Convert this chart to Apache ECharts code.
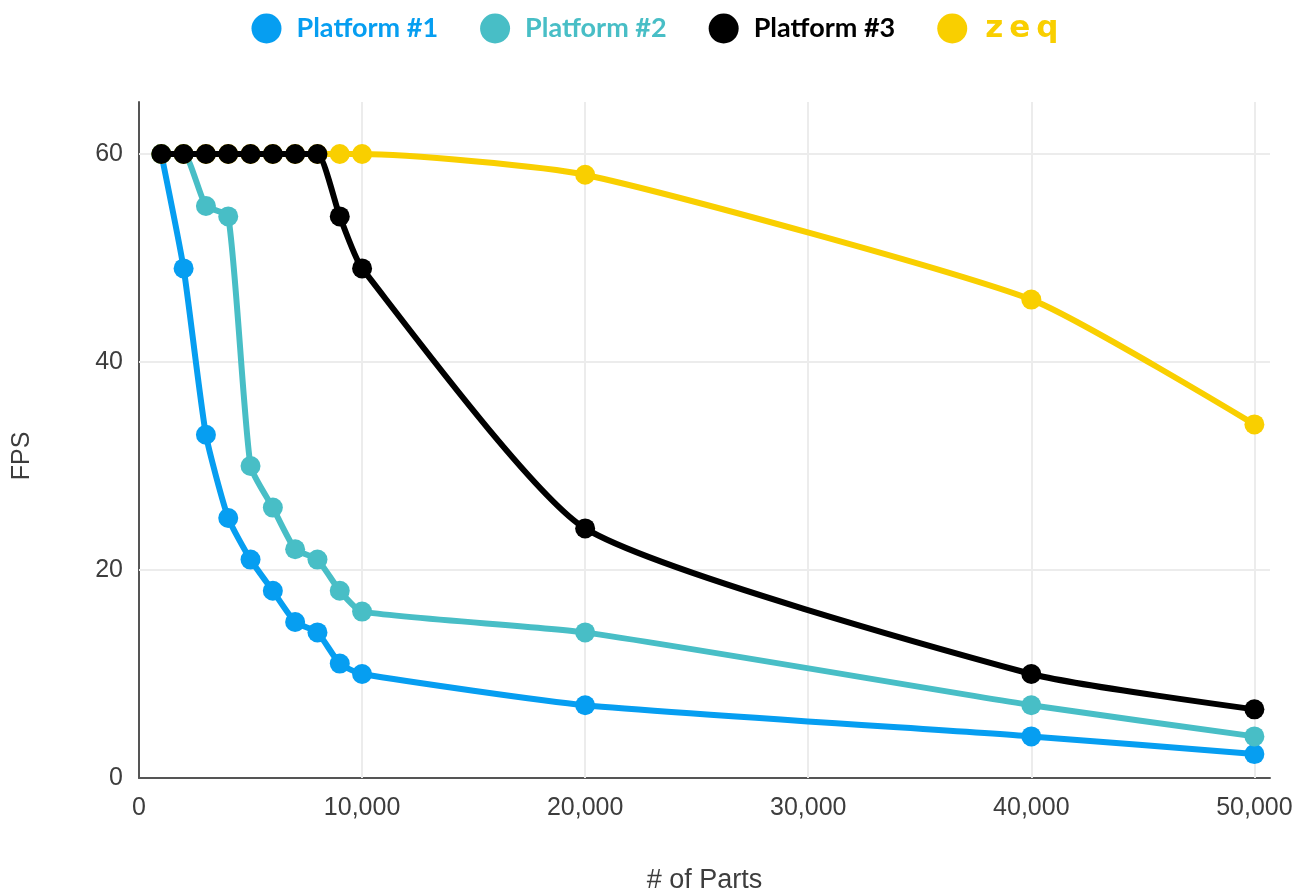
<!DOCTYPE html>
<html>
<head>
<meta charset="utf-8">
<title>FPS vs # of Parts</title>
<script src="https://cdn.jsdelivr.net/npm/echarts@6/dist/echarts.min.js"></script>
<style>
  html, body { margin: 0; padding: 0; background: #ffffff; }
  #chart { width: 1310px; height: 895px; }
</style>
</head>
<body>
<div id="chart"></div>
<script>
// Number of parts rendered in each run
const parts = [1000, 2000, 3000, 4000, 5000, 6000, 7000, 8000, 9000, 10000, 20000, 40000, 50000];

// Measured frames per second for each platform
const platform1 = [60, 49, 33, 25, 21, 18, 15, 14, 11, 10, 7, 4, 2.3];
const platform2 = [60, 60, 55, 54, 30, 26, 22, 21, 18, 16, 14, 7, 4];
const platform3 = [60, 60, 60, 60, 60, 60, 60, 60, 54, 49, 24, 10, 6.6];
const zeq       = [60, 60, 60, 60, 60, 60, 60, 60, 60, 60, 58, 46, 34];

const seriesNames = ['Platform #1', 'Platform #2', 'Platform #3', 'zeq'];
const seriesColors = ['#069ef1', '#48bec6', '#000000', '#f9cf00'];

// Axis ticks and gridline positions
const xTicks = [0, 10000, 20000, 30000, 40000, 50000];
const yTicks = [0, 20, 40, 60];

const pairs = (ys) => parts.map((x, i) => [x, ys[i]]);

const gridLines = [
  ...xTicks.filter(v => v > 0).map(v => ({ xAxis: v })),
  ...yTicks.filter(v => v > 0).map(v => ({ yAxis: v }))
];

const labelFont = { fontFamily: 'Liberation Sans, Arial, sans-serif', fontSize: 25, color: '#3d3d3d' };

function makeSeries(name, ys, color, z, extra) {
  return Object.assign({
    name: name,
    type: 'line',
    data: pairs(ys),
    smooth: 0.18,
    symbol: 'circle',
    symbolSize: 20,
    showSymbol: true,
    z: z,
    itemStyle: { color: color },
    lineStyle: { color: color, width: 6 },
    emphasis: { disabled: true }
  }, extra || {});
}

const chart = echarts.init(document.getElementById('chart'), null, { renderer: 'canvas' });

chart.setOption({
  animation: false,
  backgroundColor: '#ffffff',
  legend: {
    top: 8,
    left: 'center',
    icon: 'circle',
    itemWidth: 30,
    itemHeight: 30,
    itemGap: 42,
    selectedMode: false,
    textStyle: {
      fontFamily: 'Lato, sans-serif',
      fontWeight: 'bold',
      fontSize: 27,
      padding: [0, 0, 0, 10],
      rich: {
        // wide lettering for the zeq wordmark
        logo: {
          fontFamily: 'DejaVu Sans, sans-serif',
          fontWeight: 'bold',
          fontSize: 31,
          color: '#f9cf00',
          padding: [0, 3, 0, 3]
        }
      }
    },
    formatter: (name) => name === 'zeq'
      ? name.split('').map(ch => '{logo|' + ch + '}').join('')
      : name,
    data: seriesNames.map((n, i) => ({
      name: n,
      itemStyle: { color: seriesColors[i] },
      textStyle: { color: seriesColors[i] }
    }))
  },
  grid: {
    left: 139,
    right: 40,
    top: 102,
    bottom: 117,
    containLabel: false,
    outerBoundsMode: 'none'
  },
  xAxis: {
    type: 'value',
    min: 0,
    max: 50700,
    interval: 10000,
    name: '# of Parts',
    nameLocation: 'middle',
    nameGap: 89,
    nameTextStyle: Object.assign({}, labelFont, { fontSize: 27 }),
    axisLine: { show: true, lineStyle: { color: '#555555', width: 2 } },
    axisTick: { show: false },
    splitLine: { show: false },
    axisLabel: Object.assign({
      margin: 18,
      showMaxLabel: false,
      formatter: (v) => v.toLocaleString('en-US')
    }, labelFont)
  },
  yAxis: {
    type: 'value',
    min: 0,
    max: 65,
    interval: 20,
    name: 'FPS',
    nameLocation: 'middle',
    nameGap: 104,
    nameRotate: 90,
    nameTextStyle: Object.assign({}, labelFont, { padding: [0, 32, 0, 0] }),
    axisLine: { show: true, lineStyle: { color: '#555555', width: 2 } },
    axisTick: { show: false },
    splitLine: { show: false },
    axisLabel: Object.assign({
      margin: 16,
      showMaxLabel: false
    }, labelFont)
  },
  series: [
    makeSeries(seriesNames[0], platform1, seriesColors[0], 3, {
      markLine: {
        silent: true,
        symbol: 'none',
        z: 1,
        label: { show: false },
        emphasis: { disabled: true },
        lineStyle: { color: '#ececec', type: 'solid', width: 2 },
        data: gridLines
      }
    }),
    makeSeries(seriesNames[1], platform2, seriesColors[1], 4),
    makeSeries(seriesNames[2], platform3, seriesColors[2], 6),
    makeSeries(seriesNames[3], zeq, seriesColors[3], 5)
  ]
});
</script>
</body>
</html>
